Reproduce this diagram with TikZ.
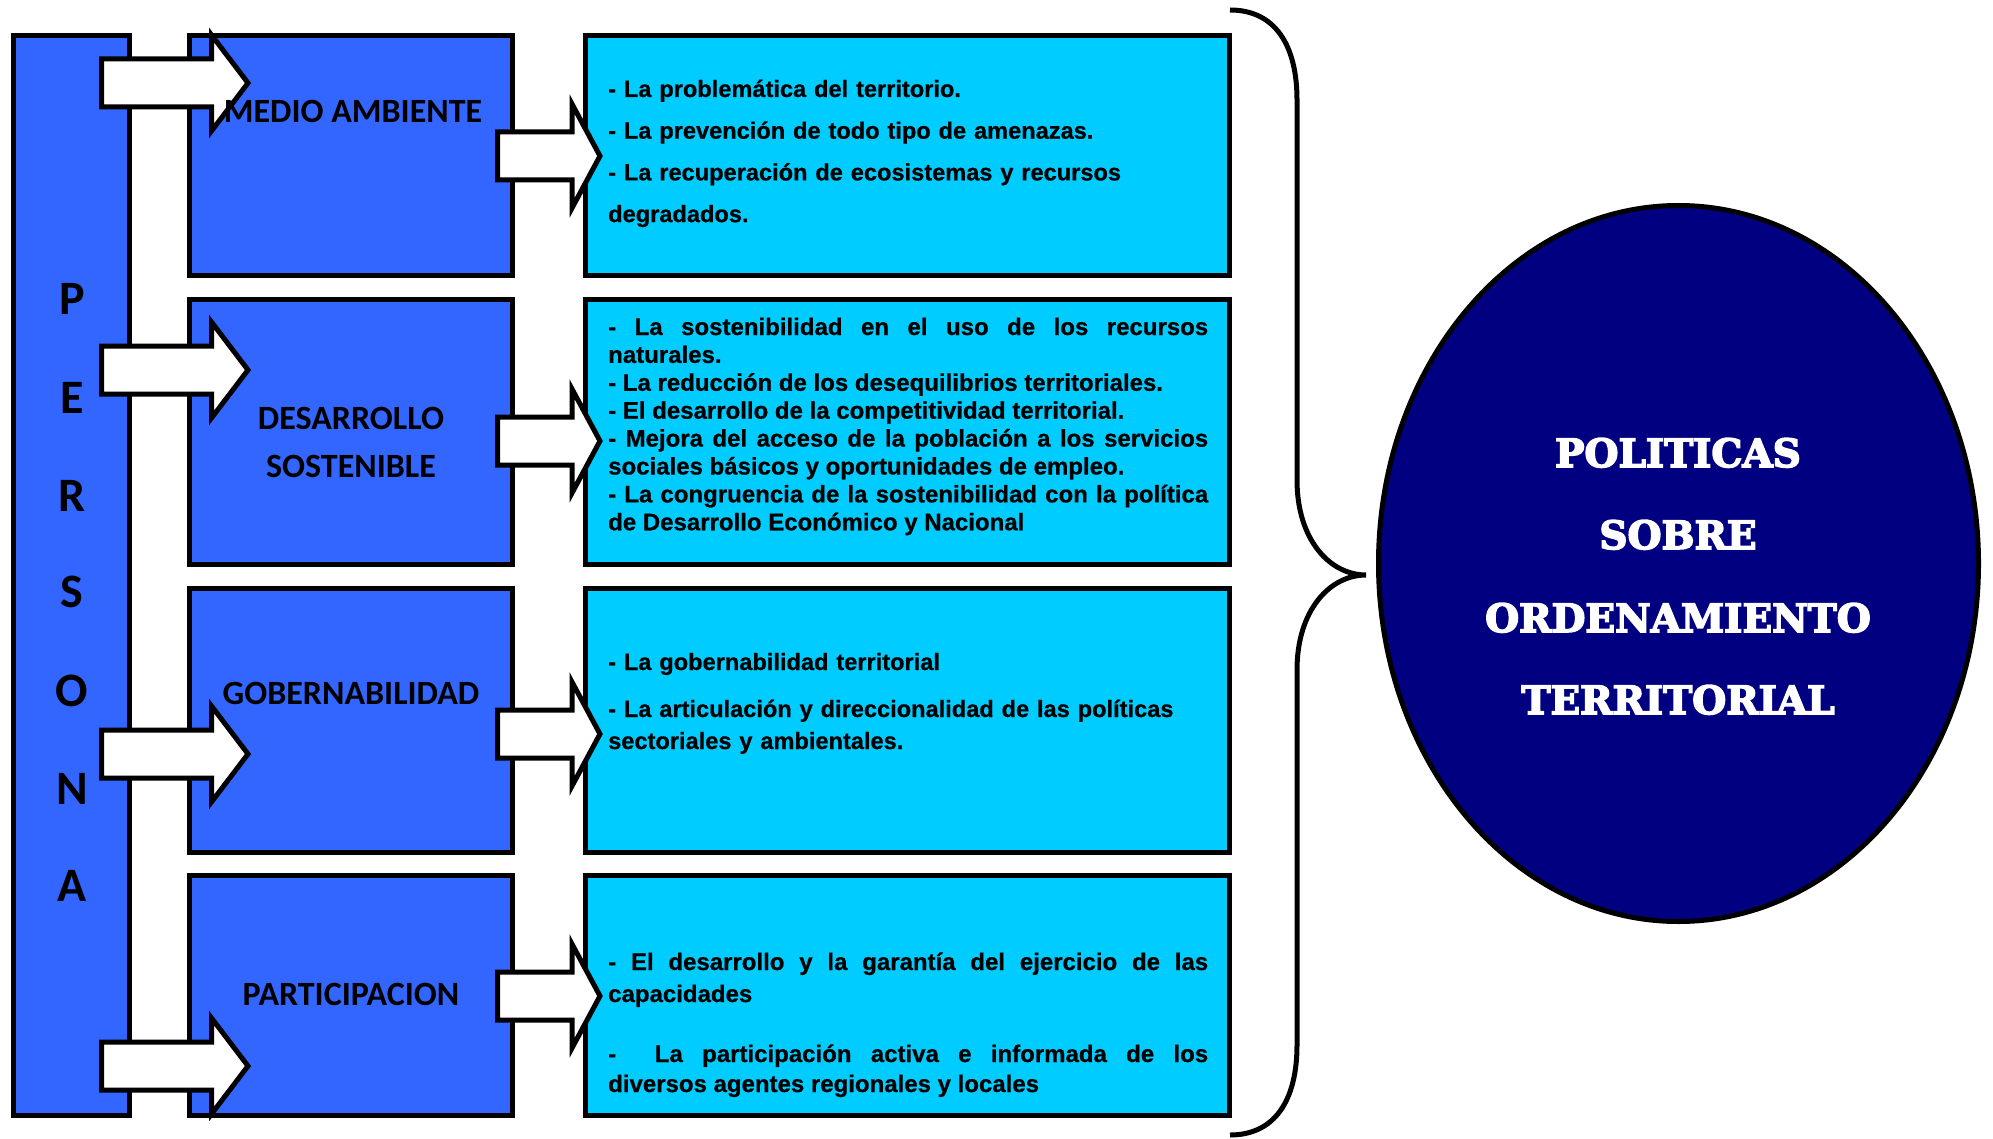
\documentclass[tikz,border=0pt]{standalone}
\usepackage{fontspec}
\usetikzlibrary{shapes.geometric}
\newfontfamily\arialfont[BoldFeatures={FakeBold=0.6}]{Liberation Sans}
\newfontfamily\calibfont{Carlito}
\newfontfamily\titlefont[BoldFeatures={FakeBold=4}]{DejaVu Serif}
\definecolor{boxblue}{HTML}{3366FF}
\definecolor{boxcyan}{HTML}{00CCFF}
\definecolor{navyfill}{HTML}{000080}
\newcommand{\blockarr}[6]{% x0, yc, xb, xt, h1, h2
  \draw[blockarrow] (#1,#2-#5) -- (#3,#2-#5) -- (#3,#2-#6) -- (#4,#2) -- (#3,#2+#6) -- (#3,#2+#5) -- (#1,#2+#5) -- cycle;}
\begin{document}
\begin{tikzpicture}[x=1pt,y=-1pt,
  outline/.style={draw=black,line width=5pt},
  bluebox/.style={outline,fill=boxblue,rectangle,inner sep=0pt,minimum width=323pt},
  cyanbox/.style={outline,fill=boxcyan,rectangle,inner sep=0pt,minimum width=644pt},
  blockarrow/.style={draw=black,line width=5pt,fill=white,line join=miter,miter limit=20},
  boxlabel/.style={font=\calibfont\bfseries\fontsize{34}{40}\selectfont,inner sep=0pt,anchor=base},
  letter/.style={font=\calibfont\bfseries\fontsize{48}{50}\selectfont,inner sep=0pt,anchor=base},
  bullets/.style={inner sep=0pt,anchor=base west,text width=600pt},
  titleline/.style={font=\titlefont\bfseries\fontsize{39}{44}\selectfont,text=white,inner sep=0pt,anchor=base}
]
\useasboundingbox (0,0) rectangle (1993,1139);
% left column
\node[bluebox,minimum width=116pt,minimum height=1080pt] (persona) at (71.5,575.5) {};
\node[bluebox,minimum height=240pt] (b1) at (351,155.5) {};
\node[bluebox,minimum height=265pt] (b2) at (351,432) {};
\node[bluebox,minimum height=264pt] (b3) at (351,720.5) {};
\node[bluebox,minimum height=240pt] (b4) at (351,995.5) {};
% cyan boxes
\node[cyanbox,minimum height=240pt] (c1) at (907.5,155.5) {};
\node[cyanbox,minimum height=265pt] (c2) at (907.5,432) {};
\node[cyanbox,minimum height=264pt] (c3) at (907.5,720.5) {};
\node[cyanbox,minimum height=240pt] (c4) at (907.5,995.5) {};
% PERSONA letters
\foreach \ch/\yy [count=\i] in {P/315,E/413,R/511,S/607,O/706,N/804,A/901}
  \node[letter] (let\i) at (72,\yy) {\ch};
% block arrows persona -> boxes
\blockarr{101.5}{83}{211.5}{248}{24}{48}
\blockarr{101.5}{370}{211.5}{248}{24}{48}
\blockarr{101.5}{754}{211.5}{248}{24}{48}
\blockarr{101.5}{1066}{211.5}{248}{24}{48}
% block arrows boxes -> cyan
\blockarr{497.5}{156}{572}{600}{24}{52}
\blockarr{497.5}{441}{572}{600}{24}{52}
\blockarr{497.5}{734}{572}{600}{24}{52}
\blockarr{497.5}{996}{572}{600}{24}{52}
% labels
\node[boxlabel] (l1) at (353,123) {MEDIO AMBIENTE};
\node[boxlabel] (l2a) at (351,429) {DESARROLLO};
\node[boxlabel] (l2b) at (351,477) {SOSTENIBLE};
\node[boxlabel] (l3) at (351,704) {GOBERNABILIDAD};
\node[boxlabel] (l4) at (351,1005) {PARTICIPACION};
% bullet texts
\node[bullets,align=left,font=\arialfont\bfseries\fontsize{23.6}{41.7}\selectfont] (t1) at (608,97)
 {- La problemática del territorio.\\- La prevención de todo tipo de amenazas.\\- La recuperación de ecosistemas y recursos\\degradados.};
\node[bullets,align=justify,font=\arialfont\bfseries\fontsize{24}{27.9}\selectfont] (t2) at (608,335)
 {- La sostenibilidad en el uso de los recursos\linebreak naturales.\\
 - La reducción de los desequilibrios territoriales.\\
 - El desarrollo de la competitividad territorial.\\
 - Mejora del acceso de la población a los servicios\linebreak sociales básicos y oportunidades de empleo.\\
 - La congruencia de la sostenibilidad con la política\linebreak de Desarrollo Económico y Nacional};
\node[bullets,align=left,font=\arialfont\bfseries\fontsize{23.6}{32}\selectfont] (t3a) at (608,670)
 {- La gobernabilidad territorial};
\node[bullets,align=left,font=\arialfont\bfseries\fontsize{23.6}{32}\selectfont] (t3b) at (608,717)
 {- La articulación y direccionalidad de las políticas\\sectoriales y ambientales.};
\node[bullets,align=justify,font=\arialfont\bfseries\fontsize{24}{32}\selectfont] (t4a) at (608,970)
 {- El desarrollo y la garantía del ejercicio de las\linebreak capacidades};
\node[bullets,align=justify,font=\arialfont\bfseries\fontsize{24}{30}\selectfont] (t4b) at (608,1062)
 {-\ \ La participación activa e informada de los\linebreak diversos agentes regionales y locales};
% brace
\coordinate (brtop) at (1230,10);
\coordinate (brtip) at (1366,575);
\coordinate (brbot) at (1230,1135);
\draw[line width=5pt] (brtop) .. controls (1275,10) and (1297,45) .. (1297,100) -- (1297,480)
  .. controls (1297,540) and (1330,575) .. (brtip)
  .. controls (1330,575) and (1297,610) .. (1297,670) -- (1297,1045)
  .. controls (1297,1100) and (1275,1135) .. (brbot);
% ellipse
\node[ellipse,draw=black,line width=5pt,fill=navyfill,minimum width=600pt,minimum height=716pt,inner sep=0pt] (pol) at (1678.5,563.5) {};
\node[titleline] (p1) at (1678,467) {POLITICAS};
\node[titleline] (p2) at (1678,549) {SOBRE};
\node[titleline] (p3) at (1678,632) {ORDENAMIENTO};
\node[titleline] (p4) at (1678,714) {TERRITORIAL};
\end{tikzpicture}
\end{document}
